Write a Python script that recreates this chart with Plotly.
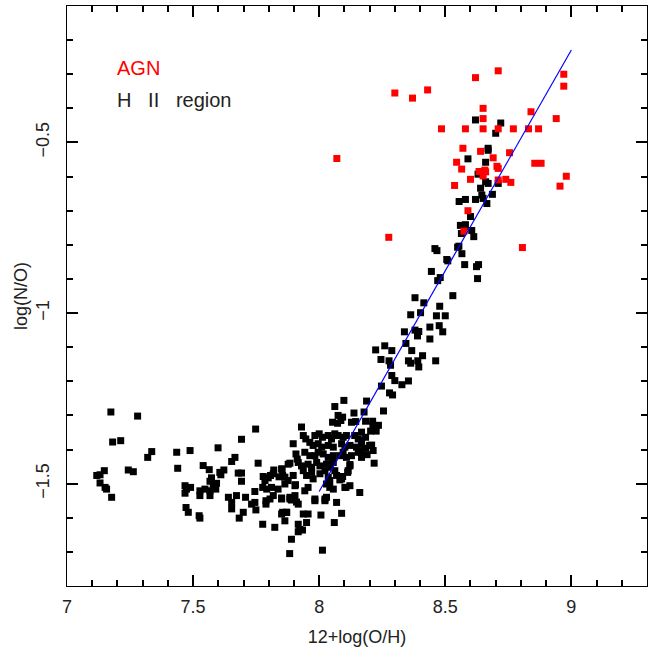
import plotly.graph_objects as go

# AGN (red)
agn_x = [8.30, 8.37, 8.43, 8.62, 8.71, 8.97, 8.97, 8.65, 8.65, 8.84, 8.94, 8.485, 8.58, 8.65, 8.71,
         8.77, 8.83, 8.87, 8.57, 8.64, 8.755, 8.69, 8.07, 8.545, 8.565, 8.705, 8.71, 8.855, 8.88,
         8.634, 8.657, 8.66, 8.65, 8.60, 8.71, 8.74, 8.76, 8.98, 8.955, 8.537, 8.59, 8.574, 8.276, 8.806]
agn_y = [-0.355, -0.37, -0.346, -0.31, -0.29, -0.30, -0.335, -0.40, -0.43, -0.41, -0.43, -0.46, -0.46,
         -0.46, -0.46, -0.46, -0.46, -0.46, -0.517, -0.526, -0.53, -0.545, -0.547, -0.558, -0.578,
         -0.57, -0.576, -0.561, -0.561, -0.585, -0.581, -0.586, -0.598, -0.608, -0.61, -0.608, -0.617,
         -0.599, -0.628, -0.626, -0.70, -0.76, -0.778, -0.808]

# H II regions (black)
hii_x = [8.62, 8.72, 8.70, 8.67, 8.67, 8.59,
         8.66, 8.63, 8.66, 8.67, 8.71, 8.64, 8.645, 8.687, 8.65, 8.58, 8.62, 8.555, 8.665, 8.60,
         8.56, 8.58, 8.576, 8.564, 8.605, 8.613, 8.459, 8.467, 8.549, 8.554, 8.566, 8.506, 8.51,
         8.577, 8.624, 8.632, 8.445, 8.48, 8.47, 8.628, 8.38, 8.415, 8.53, 8.478,
         8.363, 8.402, 8.465, 8.50, 8.338, 8.38, 8.395, 8.39, 8.439, 8.476, 8.49, 8.439, 8.344,
         8.26, 8.288, 8.367, 8.41, 8.245, 8.277, 8.283, 8.354, 8.363, 8.391, 8.395, 8.462, 8.288,
         8.30, 8.328, 8.354, 8.247,
         8.224, 8.279, 8.291, 8.188, 8.178, 8.255, 8.184, 8.212, 8.213, 8.235, 8.218, 8.226,
         8.204, 8.168, 8.184, 8.208, 8.168, 8.184, 8.165,
         8.062, 8.098, 8.138, 8.075, 8.093, 8.053, 8.073, 8.086, 8.128, 8.145, 7.93, 7.937, 7.947,
         7.983, 8.0, 8.013, 8.036, 8.049, 8.062, 8.075, 8.095, 8.108, 8.141, 8.155, 8.168, 7.897,
         7.963, 7.976, 7.996, 8.01, 8.036, 8.056, 8.089, 8.102, 8.122, 8.148, 8.161, 8.20, 8.214,
         7.908, 7.943, 7.963, 7.983, 7.996, 8.016, 8.036, 8.056, 8.082, 8.095, 8.108, 8.128, 8.155,
         8.168, 8.19, 7.877, 7.917, 7.93, 7.956, 7.97, 7.99, 8.003, 8.029, 8.042, 8.056, 8.122,
         8.218, 7.851, 7.864, 7.897, 7.937, 7.95, 7.97, 7.976, 8.003, 8.023, 8.036, 8.062, 8.069,
         8.089, 8.115, 7.864, 7.877, 7.904, 7.943, 7.956, 8.042, 8.042, 8.056, 8.029, 8.102, 8.122,
         8.161, 7.851, 7.884, 7.904, 7.91, 7.983, 8.023, 8.069, 7.871, 7.851, 7.937, 7.956, 8.007,
         8.089, 7.864, 7.917, 7.95, 8.06, 7.923,
         7.181, 7.213, 7.32, 7.336, 7.435, 7.488, 7.599, 7.692, 7.748, 7.118, 7.131, 7.148, 7.131,
         7.151, 7.157, 7.177, 7.243, 7.263, 7.439, 7.468, 7.474, 7.468, 7.49, 7.472, 7.481, 7.524,
         7.527, 7.54, 7.564, 7.573, 7.567, 7.527, 7.547, 7.527, 7.567, 7.58, 7.593, 7.59, 7.567,
         7.606, 7.622, 7.61, 7.653, 7.666, 7.679, 7.692, 7.692, 7.64, 7.653, 7.672, 7.653, 7.699,
         7.683, 7.708, 7.745, 7.732, 7.745, 7.749, 7.758, 7.778, 7.785, 7.798, 7.807, 7.776, 7.792,
         7.811, 7.789, 7.805, 7.818, 7.789, 7.776, 7.824, 7.82, 7.818, 7.841, 7.855, 7.853, 7.837,
         7.851, 7.855, 7.871, 7.884, 7.89, 7.917, 7.906, 7.884, 7.913, 7.89, 7.883, 7.917, 7.934,
         7.983, 8.013, 8.023, 8.029, 8.106, 8.113, 8.122, 8.082, 8.093,
         7.174, 7.28]
hii_y = [-0.434, -0.443, -0.473, -0.517, -0.523, -0.548,
         -0.558, -0.593, -0.615, -0.62, -0.62, -0.634, -0.654, -0.652, -0.664, -0.667, -0.667,
         -0.673, -0.679, -0.717, -0.743, -0.741, -0.748, -0.767, -0.758, -0.776, -0.811, -0.817,
         -0.807, -0.804, -0.826, -0.843, -0.847, -0.858, -0.864, -0.858, -0.878, -0.896, -0.905,
         -0.899, -0.955, -0.97, -0.949, -0.98,
         -1.005, -0.999, -1.008, -1.008, -1.055, -1.05, -1.054, -1.067, -1.041, -1.037, -1.055,
         -1.076, -1.089, -1.096, -1.11, -1.11, -1.125, -1.136, -1.14, -1.153, -1.14, -1.147, -1.14,
         -1.158, -1.14, -1.183, -1.198, -1.21, -1.199, -1.214,
         -1.108, -1.234, -1.24, -1.258, -1.29, -1.287, -1.317, -1.317, -1.329, -1.329, -1.336,
         -1.346, -1.346, -1.349, -1.364, -1.387, -1.383, -1.396, -1.408,
         -1.274, -1.256, -1.293, -1.30, -1.305, -1.32, -1.323, -1.315, -1.32, -1.318, -1.334, -1.359,
         -1.369, -1.359, -1.354, -1.364, -1.359, -1.369, -1.354, -1.359, -1.364, -1.359, -1.359,
         -1.369, -1.374, -1.383, -1.379, -1.388, -1.383, -1.393, -1.388, -1.393, -1.383, -1.393,
         -1.388, -1.393, -1.403, -1.388, -1.403, -1.413, -1.408, -1.418, -1.418, -1.408, -1.413,
         -1.423, -1.418, -1.418, -1.408, -1.423, -1.418, -1.408, -1.423, -1.415, -1.443, -1.438,
         -1.448, -1.443, -1.452, -1.438, -1.448, -1.443, -1.452, -1.438, -1.448, -1.44, -1.457,
         -1.481, -1.476, -1.462, -1.476, -1.467, -1.486, -1.471, -1.462, -1.481, -1.462, -1.476,
         -1.486, -1.462, -1.501, -1.491, -1.506, -1.521, -1.511, -1.491, -1.511, -1.516, -1.501,
         -1.511, -1.506, -1.526, -1.545, -1.545, -1.535, -1.554, -1.545, -1.545, -1.555, -1.584,
         -1.589, -1.589, -1.589, -1.592, -1.587, -1.609, -1.619, -1.614, -1.614, -1.634,
         -1.378, -1.374, -1.423, -1.406, -1.408, -1.403, -1.395, -1.37, -1.34, -1.476, -1.474,
         -1.462, -1.498, -1.511, -1.516, -1.54, -1.46, -1.465, -1.455, -1.506, -1.516, -1.528,
         -1.511, -1.57, -1.584, -1.594, -1.601, -1.447, -1.459, -1.483, -1.493, -1.521, -1.516,
         -1.535, -1.535, -1.506, -1.499, -1.516, -1.521, -1.467, -1.46, -1.474, -1.435, -1.423,
         -1.469, -1.469, -1.493, -1.54, -1.555, -1.535, -1.574, -1.584, -1.601, -1.54, -1.523,
         -1.56, -1.555, -1.577, -1.44, -1.479, -1.491, -1.483, -1.476, -1.511, -1.516, -1.511,
         -1.55, -1.545, -1.535, -1.56, -1.619, -1.628, -1.46, -1.471, -1.48, -1.476, -1.457,
         -1.516, -1.542, -1.584, -1.584, -1.54, -1.548, -1.56, -1.503, -1.44, -1.428, -1.663,
         -1.705, -1.641, -1.636, -1.55, -1.695, -1.55, -1.54, -1.511, -1.467, -1.444, -1.489, -1.479,
         -1.29, -1.302]

# fitted relation
fit_x = [8.0, 9.0]
fit_y = [-1.523, -0.229]

font_family = "Liberation Sans"
text_color = "#222222"

fig = go.Figure()
fig.add_trace(go.Scatter(x=hii_x, y=hii_y, mode="markers",
                         marker=dict(symbol="square", size=7, color="black", line=dict(width=0)),
                         showlegend=False))
fig.add_trace(go.Scatter(x=agn_x, y=agn_y, mode="markers",
                         marker=dict(symbol="square", size=7, color="#ff0000", line=dict(width=0)),
                         showlegend=False))
fig.add_trace(go.Scatter(x=fit_x, y=fit_y, mode="lines",
                         line=dict(color="#0000ff", width=1.2), showlegend=False))

axis_common = dict(
    showline=True, linecolor="black", linewidth=1.3, mirror="ticks",
    ticks="inside", ticklen=11, tickwidth=1.5, tickcolor="black",
    showgrid=False, zeroline=False, automargin=False,
    tickfont=dict(family=font_family, size=18, color=text_color),
)
minor_common = dict(ticks="inside", ticklen=6, tickwidth=1.5, dtick=0.1, tickcolor="black",
                    showgrid=False)

fig.update_xaxes(range=[7, 9.3], tick0=7, dtick=0.5, minor=minor_common,
                 ticklabelstandoff=4,
                 title=dict(text="12+log(O/H)", font=dict(family=font_family, size=18, color=text_color),
                            standoff=14),
                 **axis_common)
fig.update_yaxes(range=[-1.8, -0.1], tick0=-0.5, dtick=0.5, tickangle=-90, minor=minor_common,
                 ticklabelstandoff=10,
                 title=dict(text="log(N/O)", font=dict(family=font_family, size=18, color=text_color),
                            standoff=0),
                 **axis_common)

fig.add_annotation(x=0.083, y=0.893, xref="paper", yref="paper", text="AGN", showarrow=False,
                   xanchor="left", yanchor="middle",
                   font=dict(family=font_family, size=20, color="#ff0000"))
fig.add_annotation(x=0.083, y=0.838, xref="paper", yref="paper", text="H   II   region", showarrow=False,
                   xanchor="left", yanchor="middle",
                   font=dict(family=font_family, size=20, color=text_color))

fig.update_layout(width=649, height=650,
                  margin=dict(l=67, r=2, t=6, b=64, autoexpand=False),
                  paper_bgcolor="white", plot_bgcolor="white")

fig.write_html("out.html", config={"displayModeBar": False},
               post_script="document.body.style.margin='0';")
